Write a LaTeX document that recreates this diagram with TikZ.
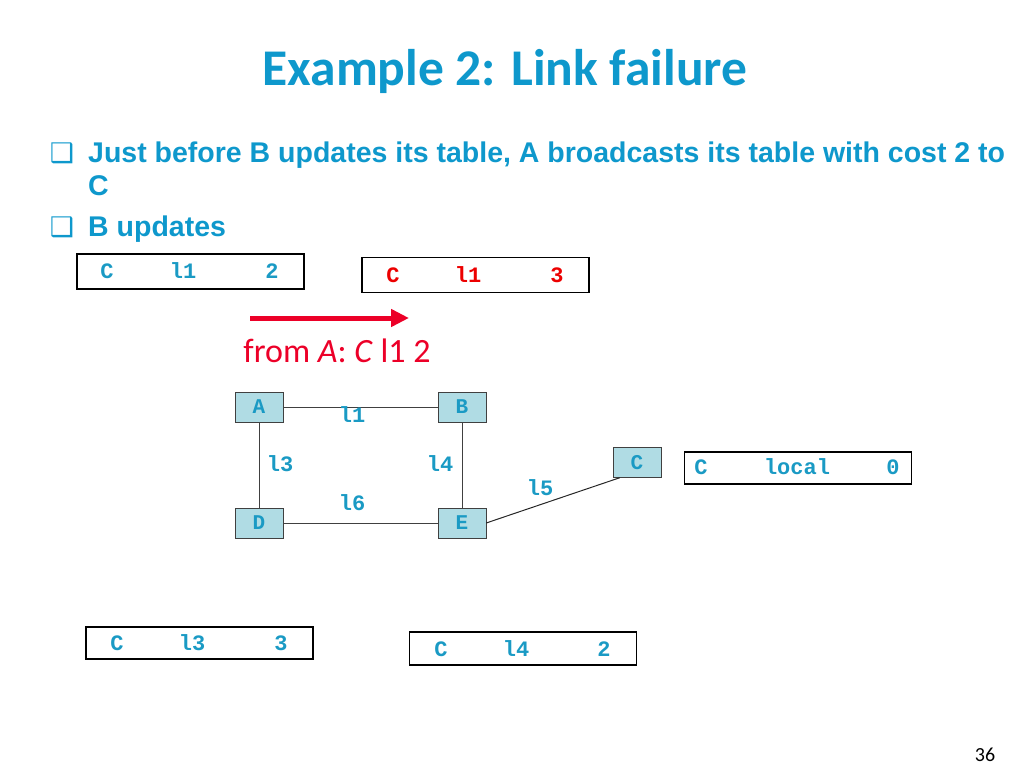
\documentclass[tikz,border=0pt]{standalone}
\usepackage{fontspec}
\usetikzlibrary{arrows.meta,positioning}
\setmainfont{Liberation Sans}
\newfontfamily\titlefont{Carlito}
\newfontfamily\codefont{Liberation Mono}
\newfontfamily\symfont{DejaVu Sans}
\definecolor{tealblue}{RGB}{14,152,204}
\definecolor{entryblue}{RGB}{26,154,196}
\definecolor{routerfill}{RGB}{176,220,228}
\definecolor{arrowred}{RGB}{236,0,40}
\definecolor{newred}{RGB}{236,0,0}
\begin{document}
\begin{tikzpicture}[x=1pt,y=-1pt,
		router/.style={draw=black!75,fill=routerfill,minimum width=48pt,minimum height=30pt,inner sep=0pt,
			font=\codefont\bfseries\fontsize{21}{21}\selectfont,text=entryblue},
		tablebox/.style={draw,line width=1.8pt,minimum width=227pt,minimum height=35pt,inner sep=0pt},
		entry/.style={font=\codefont\bfseries\fontsize{22}{22}\selectfont,text=entryblue,inner sep=0pt},
		linklabel/.style={font=\codefont\bfseries\fontsize{22}{22}\selectfont,text=entryblue,inner sep=0pt},
		bullettext/.style={anchor=base west,inner sep=0pt,text=tealblue,font=\bfseries\fontsize{28.5}{28.5}\selectfont}]
		\useasboundingbox (0,0) rectangle (1024,768);
		\node[text=tealblue,font=\titlefont\bfseries\fontsize{51.5}{51.5}\selectfont,anchor=base] (title) at (505,85) {Example 2: Link failure};
		\node[text=tealblue,inner sep=0pt,font=\symfont\fontsize{27}{27}\selectfont,anchor=base] (bul1) at (62,162) {❑};
		\node[bullettext] (txt1) at (88,162) {Just before B updates its table, A broadcasts its table with cost 2 to};
		\node[bullettext] (txt2) at (88,195) {C};
		\node[text=tealblue,inner sep=0pt,font=\symfont\fontsize{27}{27}\selectfont,anchor=base] (bul2) at (62,236) {❑};
		\node[bullettext] (txt3) at (88,236) {B updates};
		\node[tablebox] (tabA) at (190.5,271.5) {};
		\node[entry] at (107,271) {C};
		\node[entry] at (183,271) {l1};
		\node[entry] at (272,271) {2};
		\node[tablebox] (tabB) at (475.5,275) {};
		\node[entry,text=newred] at (393,275) {C};
		\node[entry,text=newred] at (468,275) {l1};
		\node[entry,text=newred] at (557,275) {3};
		\node[tablebox,minimum height=32pt] (tabC) at (798,468) {};
		\node[entry] at (701,467) {C};
		\node[entry] at (797,467) {local};
		\node[entry] at (893,467) {0};
		\node[tablebox,minimum height=32pt] (tabD) at (199.5,643) {};
		\node[entry] at (117,643) {C};
		\node[entry] at (192,643) {l3};
		\node[entry] at (281,643) {3};
		\node[tablebox,minimum height=33pt] (tabE) at (523,648.5) {};
		\node[entry] at (441,649) {C};
		\node[entry] at (516,649) {l4};
		\node[entry] at (604,649) {2};
		\coordinate (arrowstart) at (250,318);
		\coordinate (arrowend) at (409,318);
		\draw[arrowred,line width=5pt,-{Triangle[length=18pt,width=17pt]}] (arrowstart) -- (arrowend);
		\node[text=arrowred,font=\titlefont\fontsize{34}{34}\selectfont,inner sep=0pt] (fromA) at (337,351) {from \textit{A}: \textit{C} l1 2};
		\node[router] (A) at (259,407) {A};
		\node[router] (B) at (462,407) {B};
		\node[router] (D) at (259,523) {D};
		\node[router] (E) at (462,523) {E};
		\node[router] (C) at (637,462.5) {C};
		\draw[black!75,line width=1pt] (A) -- (B);
		\draw[black!75,line width=1pt] (A) -- (D);
		\draw[black!75,line width=1pt] (B) -- (E);
		\draw[black!75,line width=1pt] (D) -- (E);
		\draw[black!85,line width=1pt] (E.east) -- ([xshift=7pt]C.south west);
		\node[linklabel] at (352,415) {l1};
		\node[linklabel] at (280,464) {l3};
		\node[linklabel] at (440,464) {l4};
		\node[linklabel] at (540,488) {l5};
		\node[linklabel] at (352,503) {l6};
		\node[font=\titlefont\fontsize{20}{20}\selectfont] (page) at (985,755) {36};
	\end{tikzpicture}
\end{document}
